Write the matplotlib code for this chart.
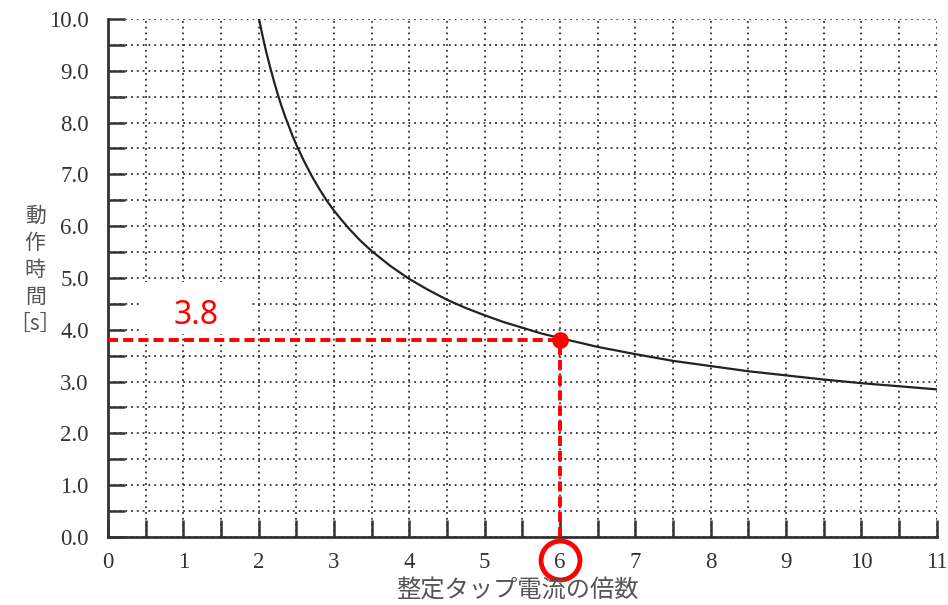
import numpy as np
import matplotlib
matplotlib.use('Agg')
import matplotlib.pyplot as plt
from matplotlib.patches import Rectangle
from matplotlib.ticker import MultipleLocator

# 読み取った曲線の値 (倍数 -> 動作時間)
bairitsu = [2.0, 2.05, 2.1, 2.15, 2.2, 2.25, 2.3, 2.35, 2.4, 2.45, 2.5, 2.6, 2.7, 2.8, 2.9,
            3.0, 3.1, 3.2, 3.35, 3.5, 3.75, 4.0, 4.25, 4.5, 4.75, 5.0, 5.25, 5.5, 5.75,
            6.0, 6.5, 7.0, 7.5, 8.0, 8.5, 9.0, 9.5, 10.0, 10.5, 11.0]
jikan = [10.03, 9.68, 9.36, 9.08, 8.81, 8.56, 8.33, 8.12, 7.93, 7.74, 7.57, 7.26, 6.98, 6.73, 6.50,
         6.30, 6.12, 5.95, 5.72, 5.52, 5.23, 4.98, 4.77, 4.58, 4.42, 4.28, 4.15, 4.04, 3.93,
         3.84, 3.67, 3.53, 3.40, 3.30, 3.20, 3.12, 3.04, 2.97, 2.91, 2.85]

# 読み取り点
x_pt = 6
y_pt = 3.8
pt_label = '3.8'

xticks = list(range(0, 12))
yticks = [i * 1.0 for i in range(0, 11)]

serif = ['Liberation Serif', 'DejaVu Serif']
jp = ['Noto Sans CJK JP', 'DejaVu Sans']
red = '#ff0000'

fig = plt.figure(figsize=(9.48, 6.05), dpi=100)
ax = fig.add_axes([0.114, 0.1124, 0.874, 0.8562])

ax.set_xlim(0, 11)
ax.set_ylim(0, 10)

ax.xaxis.set_minor_locator(MultipleLocator(0.5))
ax.yaxis.set_minor_locator(MultipleLocator(0.5))

ax.set_xticks(xticks)
ax.set_xticklabels([str(v) for v in xticks], family=serif, fontsize=16.5, color='#333333')
ax.set_yticks(yticks)
ax.set_yticklabels(['%.1f' % v for v in yticks], family=serif, fontsize=16.5, color='#333333')

ax.tick_params(which='both', direction='in', length=12, width=1.8, color='#333333')
ax.tick_params(axis='x', which='major', pad=11)
ax.tick_params(axis='y', which='major', pad=14)

for s in ['top', 'right']:
    ax.spines[s].set_visible(False)
for s in ['left', 'bottom']:
    ax.spines[s].set_linewidth(2)
    ax.spines[s].set_color('#333333')

ax.grid(True, which='both', linestyle=(0, (1, 2.2)), color='#333333', linewidth=1.3)
ax.set_axisbelow(True)

# ラベル背景の白い部分
ax.add_patch(Rectangle((0.42, 3.92), 1.49, 1.0, facecolor='white', edgecolor='none', zorder=1.5))

ax.plot(bairitsu, jikan, color='#222222', linewidth=1.6, zorder=3)

ax.plot([0, x_pt], [y_pt, y_pt], color=red, linewidth=2.8, linestyle=(0, (2.6, 1.3)), zorder=4)
ax.plot([x_pt, x_pt], [0, y_pt], color=red, linewidth=2.8, linestyle=(0, (2.6, 1.3)), zorder=4)
ax.plot([x_pt], [y_pt], 'o', color=red, markersize=11, zorder=5)
ax.plot([x_pt], [-0.45], 'o', markerfacecolor='none', markeredgecolor=red,
        markersize=28, markeredgewidth=3.5, clip_on=False, zorder=5)

ax.text(1.17, 4.27, pt_label, color=red, fontsize=23, family=['Noto Sans', 'DejaVu Sans'],
        ha='center', va='center', zorder=6)

fig.text(0.546, 0.024, '整定タップ電流の倍数', family=jp, fontsize=17.5, color='#555555',
         ha='center', va='center')
fig.text(0.037, 0.554, '動\n作\n時\n間\n［s］', family=jp, fontsize=15, color='#555555',
         ha='center', va='center', linespacing=1.3)

fig.savefig('out.png', dpi=100)
